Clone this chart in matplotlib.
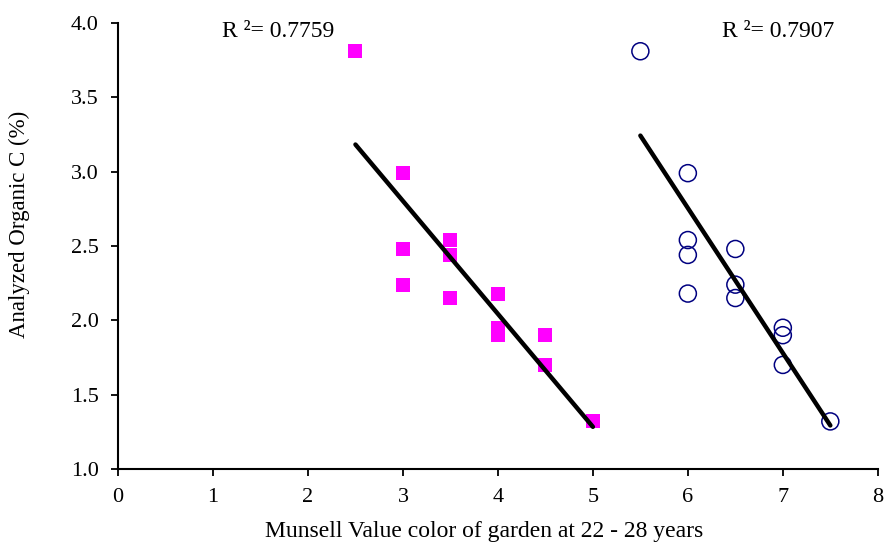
import numpy as np
import matplotlib
matplotlib.use("Agg")
import matplotlib.pyplot as plt

plt.rcParams['font.family'] = ['Liberation Serif', 'DejaVu Serif']

# Magenta squares
x_sq = [2.5, 3, 3, 3, 3.5, 3.5, 3.5, 4, 4, 4, 4.5, 4.5, 5]
y_sq = [3.81, 2.99, 2.48, 2.24, 2.54, 2.44, 2.15, 2.18, 1.95, 1.90, 1.90, 1.70, 1.32]
# Blue circles
x_ci = [5.5, 6, 6, 6, 6, 6.5, 6.5, 6.5, 7, 7, 7, 7.5]
y_ci = [3.81, 2.99, 2.54, 2.44, 2.18, 2.48, 2.24, 2.15, 1.95, 1.90, 1.70, 1.32]

r2_labels = ["R \u00b2= 0.7759", "R \u00b2= 0.7907"]
x_ticks = [0, 1, 2, 3, 4, 5, 6, 7, 8]
y_ticks = [1.0, 1.5, 2.0, 2.5, 3.0, 3.5, 4.0]

fig = plt.figure(figsize=(8.84, 5.44), dpi=100)
ax = fig.add_axes([0.1335, 0.1379, 0.8595, 0.8198])

ax.scatter(x_sq, y_sq, marker='s', s=110, color='#FF00FF', linewidths=0, zorder=3)
ax.scatter(x_ci, y_ci, marker='o', s=150, facecolors='none', edgecolors='#000080',
           linewidths=1.1, zorder=3)

for xs, ys in [(x_sq, y_sq), (x_ci, y_ci)]:
    xs_a = np.array(xs); ys_a = np.array(ys)
    m, b = np.polyfit(xs_a, ys_a, 1)
    xl = np.array([xs_a.min(), xs_a.max()])
    ax.plot(xl, m * xl + b, color='black', lw=3.2, solid_capstyle='round', zorder=4)

ax.text(1.09, 3.945, r2_labels[0], fontsize=17, va='center', ha='left')
ax.text(6.36, 3.945, r2_labels[1], fontsize=17, va='center', ha='left')

ax.set_xlim(0, 8)
ax.set_ylim(1.0, 4.0)
ax.set_xticks(x_ticks)
ax.set_yticks(y_ticks)
ax.set_xticklabels([str(t) for t in x_ticks])
ax.set_yticklabels([f"{t:.1f}" for t in y_ticks])
ax.tick_params(axis='both', direction='out', length=5, width=1.3, labelsize=16)
ax.tick_params(axis='x', pad=8.5)
ax.tick_params(axis='y', pad=9)
ax.spines['top'].set_visible(False)
ax.spines['right'].set_visible(False)
ax.spines['left'].set_linewidth(1.5)
ax.spines['bottom'].set_linewidth(1.5)

fig.text(484 / 884, 1 - 531 / 544, "Munsell Value color of garden at 22 - 28 years",
         fontsize=17, ha='center', va='center')
fig.text(19 / 884, 1 - 224 / 544, "Analyzed Organic C (%)",
         fontsize=16.5, ha='center', va='center', rotation=90)

fig.savefig("out.png", dpi=100)
